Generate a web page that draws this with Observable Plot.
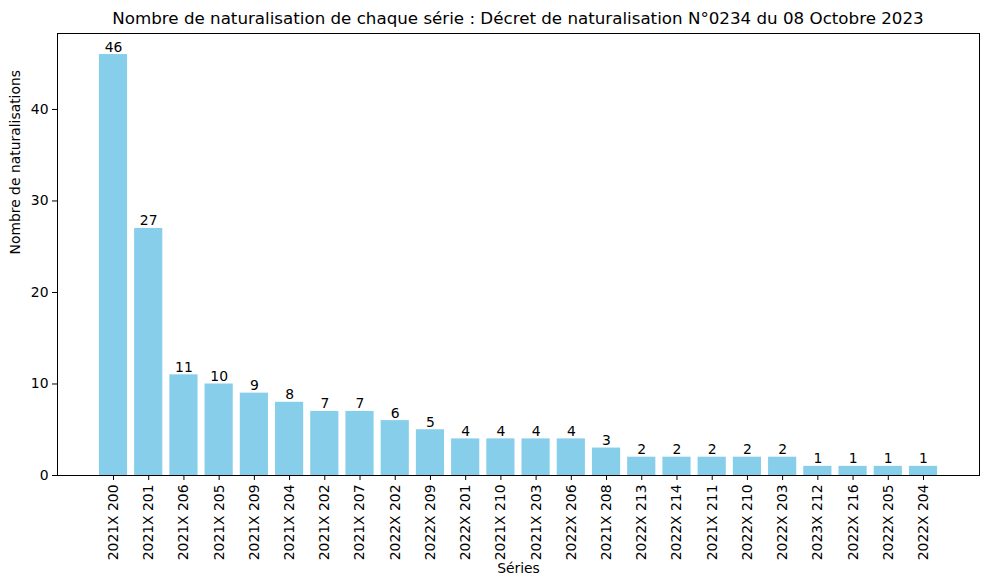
<!DOCTYPE html>
<html>
<head>
<meta charset="utf-8">
<script src="https://cdn.jsdelivr.net/npm/d3@7"></script>
<script src="https://cdn.jsdelivr.net/npm/@observablehq/plot@0.6"></script>
<style>
  body { margin: 0; background: #fff; font-family: "DejaVu Sans", sans-serif; }
  #title { height: 32px; width: 922px; margin-left: 57px; text-align: center; font-size: 16.7px; line-height: 36px; color: #000; white-space: nowrap; }
  #chart svg { display: block; overflow: visible; }
</style>
</head>
<body>
<div id="title">Nombre de naturalisation de chaque série : Décret de naturalisation N°0234 du 08 Octobre 2023</div>
<div id="chart"></div>
<script>
const series = ["2021X 200", "2021X 201", "2021X 206", "2021X 205", "2021X 209", "2021X 204", "2021X 202", "2021X 207", "2022X 202", "2022X 209", "2022X 201", "2021X 210", "2021X 203", "2022X 206", "2021X 208", "2022X 213", "2022X 214", "2021X 211", "2022X 210", "2022X 203", "2023X 212", "2022X 216", "2022X 205", "2022X 204"];
const counts = [46, 27, 11, 10, 9, 8, 7, 7, 6, 5, 4, 4, 4, 4, 3, 2, 2, 2, 2, 2, 1, 1, 1, 1];
const yTicks = [0, 10, 20, 30, 40];
const xLabel = "Séries";
const yLabel = "Nombre de naturalisations";

const data = series.map((s, i) => ({serie: s, n: counts[i]}));

const chart = Plot.plot({
  width: 988,
  height: 548,
  marginTop: 1,
  marginLeft: 57,
  marginRight: 9,
  marginBottom: 105,
  style: {fontFamily: "DejaVu Sans", fontSize: "13.9px", color: "#000", background: "#fff"},
  x: {domain: series, paddingInner: 0.2, paddingOuter: 1.19, round: false},
  y: {domain: [0, 48.3]},
  marks: [
    Plot.barY(data, {x: "serie", y: "n", fill: "#87CEEB"}),
    Plot.text(data, {x: "serie", y: "n", text: d => String(d.n), lineAnchor: "bottom", dy: -3, fill: "#000", fontSize: 13.9}),
    Plot.axisX({tickRotate: -90, tickSize: 5, tickPadding: 4, label: null, fontSize: 13.9}),
    Plot.axisY({ticks: yTicks, tickSize: 5, tickPadding: 4, label: null, fontSize: 13.9}),
    Plot.frame({stroke: "#000", strokeWidth: 1}),
    Plot.text([yLabel], {frameAnchor: "left", dx: -42, rotate: -90, fill: "#000", fontSize: 13.9}),
    Plot.text([xLabel], {frameAnchor: "bottom", dy: 97, fill: "#000", fontSize: 13.9})
  ]
});
document.getElementById("chart").appendChild(chart);
</script>
</body>
</html>
